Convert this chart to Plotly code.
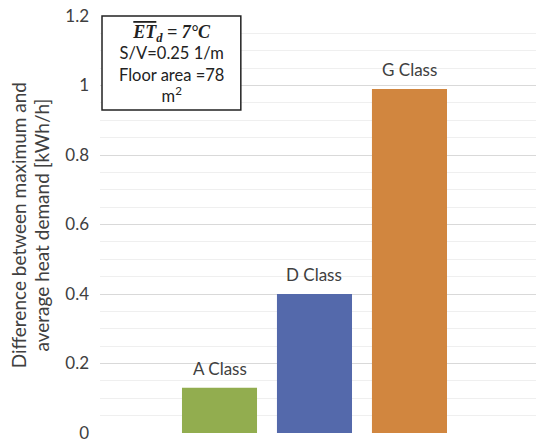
import plotly.graph_objects as go

categories = ["A Class", "D Class", "G Class"]
values = [0.13, 0.40, 0.99]
colors = ["#92AD4F", "#5469AB", "#D1863F"]
ytick_vals = [0, 0.2, 0.4, 0.6, 0.8, 1.0, 1.2]
ytick_text = ["0", "0.2", "0.4", "0.6", "0.8", "1", "1.2"]
ytitle_lines = ["Difference between maximum and", "average heat demand [kWh/h]"]

FONT = "Lato"
TXT = "#404040"

fig = go.Figure()
fig.add_trace(go.Bar(
    x=categories, y=values,
    marker=dict(color=colors, line=dict(width=0)),
    cliponaxis=False, width=0.79,
))

# bar labels above bars
for c, v in zip(categories, values):
    fig.add_annotation(x=c, y=v, text=c, showarrow=False,
                       xanchor="center", yanchor="bottom", yshift=7,
                       font=dict(family=FONT, size=17, color=TXT))

fig.update_layout(
    width=536, height=442,
    margin=dict(l=100, r=0, t=16, b=9),
    paper_bgcolor="white", plot_bgcolor="white",
    showlegend=False,
    xaxis=dict(range=[-1.258, 3.332], showticklabels=False, showgrid=False,
               zeroline=False, showline=False, ticks=""),
    yaxis=dict(range=[0, 1.2], tickvals=ytick_vals, ticktext=ytick_text,
               tickfont=dict(family=FONT, size=17, color=TXT),
               ticklabeloverflow="allow",
               showgrid=True, gridcolor="#D9D9D9", gridwidth=1,
               zeroline=False, showline=False, ticks="", ticklabelstandoff=10,
               minor=dict(dtick=0.05, showgrid=True, gridcolor="#EFEFEF", gridwidth=1)),
)

# y-axis title (two lines)
for xp, line in zip([-0.188, -0.135], ytitle_lines):
    fig.add_annotation(
        xref="paper", yref="paper", x=xp, y=0.498,
        text=line, textangle=-90, showarrow=False,
        font=dict(family=FONT, size=19, color=TXT),
        xanchor="center", yanchor="middle",
    )

# info box
fig.add_shape(type="rect", xref="paper", yref="paper",
              x0=0.0046, x1=0.323, y0=0.7746, y1=1.0,
              line=dict(color="#222222", width=1.5), fillcolor="white", layer="above")
fig.add_annotation(
    xref="paper", yref="paper", x=0.164, y=0.884,
    text=("<span style=\"font-family:'Liberation Serif';font-size:18px\"><b><i>"
          "<span style=\"text-decoration:overline\">ET</span><sub>d</sub> = 7°C</i></b></span>"
          "<br>S/V=0.25 1/m<br>Floor area =78<br>m<sup>2</sup>"),
    showarrow=False, align="center",
    font=dict(family=FONT, size=16.5, color="#222222"),
    xanchor="center", yanchor="middle",
)

fig.write_html("out.html")
